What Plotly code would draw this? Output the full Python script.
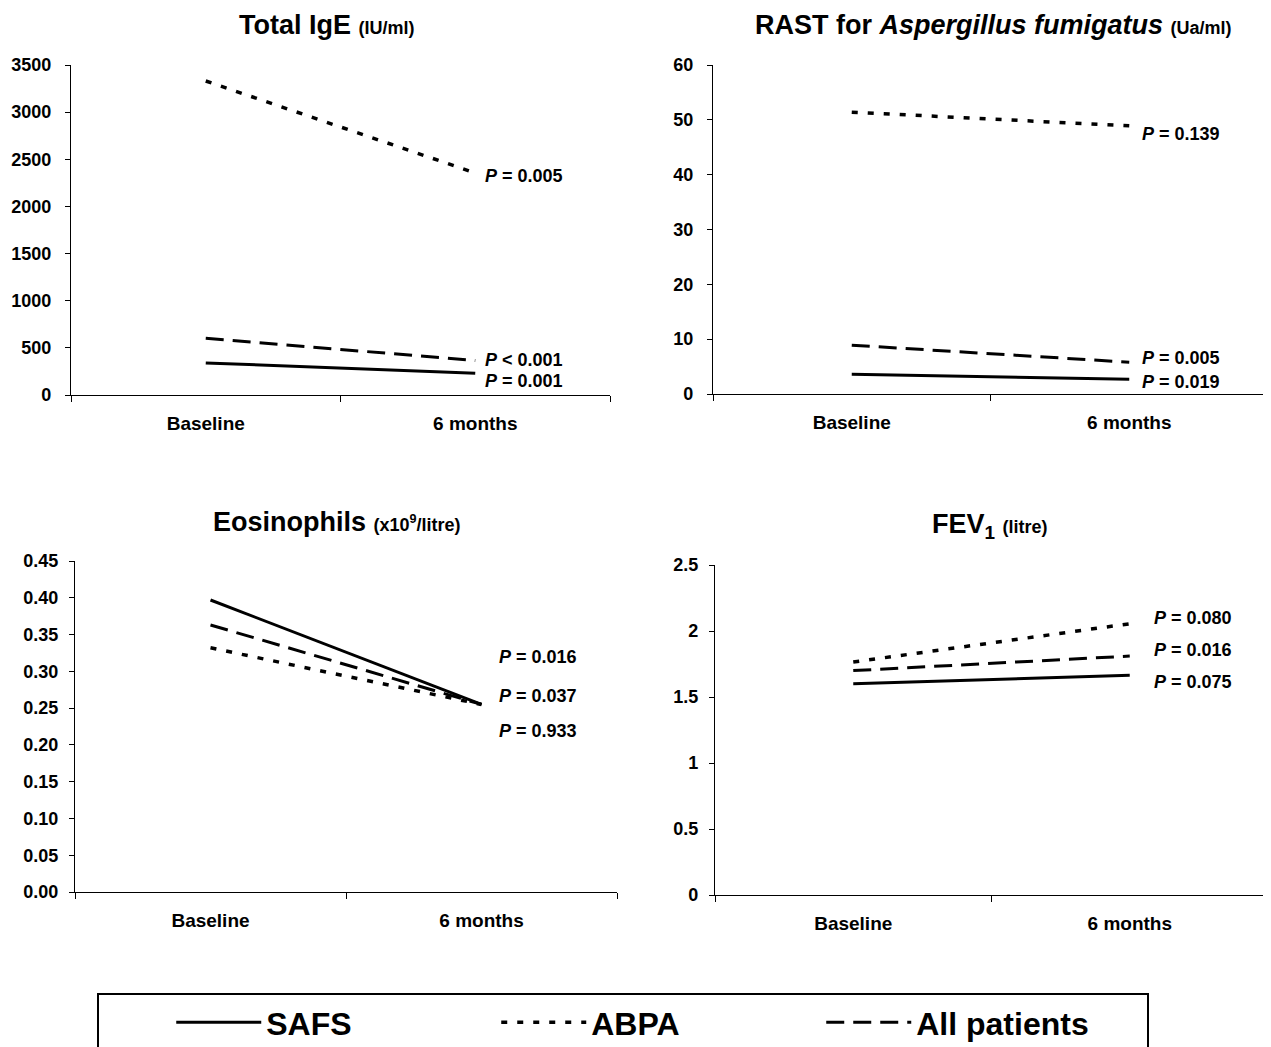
import plotly.graph_objects as go

W, H = 1271, 1047
OX, OY = 8, 8  # page body margin offset

categories = ["Baseline", "6 months"]
series_names = ["SAFS", "ABPA", "All patients"]

ige_safs = [340, 230]
ige_abpa = [3330, 2355]
ige_all = [602, 365]

rast_safs = [3.6, 2.7]
rast_abpa = [51.4, 48.9]
rast_all = [8.9, 5.8]

eos_safs = [0.397, 0.255]
eos_abpa = [0.332, 0.255]
eos_all = [0.363, 0.255]

fev_safs = [1.60, 1.665]
fev_abpa = [1.765, 2.055]
fev_all = [1.70, 1.81]

ige_p = ["= 0.005", "< 0.001", "= 0.001"]
rast_p = ["= 0.139", "= 0.005", "= 0.019"]
eos_p = ["= 0.016", "= 0.037", "= 0.933"]
fev_p = ["= 0.080", "= 0.016", "= 0.075"]

# label anchor heights (data units) for the P-value texts
ige_p_y = [2324, 372, 152]
rast_p_y = [47.5, 6.5, 2.24]
eos_p_y = [0.320, 0.267, 0.2195]
fev_p_y = [2.10, 1.855, 1.61]

FONT = "Liberation Sans, Arial, sans-serif"


def fx(px):
    return (px - OX) / W


def fy(py):
    return 1 - (py - OY) / H


styles = {
    "SAFS": dict(color="black", width=3, dash="solid"),
    "ABPA": dict(color="black", width=3.5, dash="6px,10px"),
    "All patients": dict(color="black", width=3, dash="18px,9px"),
}

panels = [
    dict(ax="1", data={"SAFS": ige_safs, "ABPA": ige_abpa, "All patients": ige_all},
         xd=[71, 610], yd=[65, 395], yrange=[0, 3500], dtick=500, fmt="d",
         ptext=ige_p, py=ige_p_y, pshift=8, standoff=10),
    dict(ax="2", data={"SAFS": rast_safs, "ABPA": rast_abpa, "All patients": rast_all},
         xd=[713, 1268], yd=[65, 394], yrange=[0, 60], dtick=10, fmt="d",
         ptext=rast_p, py=rast_p_y, pshift=11, standoff=10),
    dict(ax="3", data={"SAFS": eos_safs, "ABPA": eos_abpa, "All patients": eos_all},
         xd=[75, 617], yd=[561, 892], yrange=[0, 0.45], dtick=0.05, fmt=".2f",
         ptext=eos_p, py=eos_p_y, pshift=15, standoff=7),
    dict(ax="4", data={"SAFS": fev_safs, "ABPA": fev_abpa, "All patients": fev_all},
         xd=[715, 1268], yd=[565, 895], yrange=[0, 2.5], dtick=0.5, fmt="",
         ptext=fev_p, py=fev_p_y, pshift=22, standoff=7),
]

fig = go.Figure()
layout = {}
annotations = []

for i, p in enumerate(panels):
    sfx = p["ax"] if p["ax"] != "1" else ""
    xa, ya = "x" + sfx, "y" + sfx
    for name in ["ABPA", "All patients", "SAFS"]:
        fig.add_trace(go.Scatter(
            x=categories, y=p["data"][name], mode="lines", name=name,
            line=styles[name], xaxis=xa, yaxis=ya,
            legendgroup=name, showlegend=False, hoverinfo="skip"))
    layout["xaxis" + sfx] = dict(
        domain=[fx(p["xd"][0]), fx(p["xd"][1])], anchor=ya, type="category",
        range=[-0.5, 1.5], tickson="boundaries", ticks="outside", ticklen=6,
        tickcolor="black", showline=True, linecolor="black", linewidth=1.2,
        showgrid=False, zeroline=False, ticklabelstandoff=11,
        tickfont=dict(family=FONT, size=19, color="black", weight="bold"),
        fixedrange=True)
    layout["yaxis" + sfx] = dict(
        domain=[fy(p["yd"][1]), fy(p["yd"][0])], anchor=xa,
        range=p["yrange"], dtick=p["dtick"], tick0=0, tickformat=p["fmt"],
        ticks="outside", ticklen=5, tickcolor="black", showline=True,
        linecolor="black", linewidth=1.2, showgrid=False, zeroline=False,
        ticklabelstandoff=p["standoff"],
        tickfont=dict(family=FONT, size=18, color="black", weight="bold"),
        fixedrange=True)
    for t, yv in zip(p["ptext"], p["py"]):
        annotations.append(dict(
            x=1, y=yv, xref=xa, yref=ya, xanchor="left", yanchor="middle",
            xshift=p["pshift"], showarrow=False,
            text="<b><i>P</i> %s</b>" % t,
            font=dict(family=FONT, size=18, color="black")))

# legend entries
for name in series_names:
    fig.add_trace(go.Scatter(
        x=categories, y=[None, None], mode="lines", name=name, line=styles[name],
        legendgroup=name, showlegend=True, xaxis="x", yaxis="y",
        hoverinfo="skip"))

SUB = "<span style='font-size:18px'><b>%s</b></span>"
titles = [
    (327, 25, "<b>Total IgE</b> " + SUB % "(IU/ml)"),
    (993, 25, "<b>RAST for <i>Aspergillus fumigatus</i></b> " + SUB % "(Ua/ml)"),
    (337, 522, "<b>Eosinophils</b> " + SUB % "(x10<sup>9</sup>/litre)"),
    (990, 526, "<b>FEV<sub>1</sub></b> " + SUB % "(litre)"),
]
for x, y, t in titles:
    annotations.append(dict(
        x=fx(x), y=fy(y), xref="paper", yref="paper", xanchor="center",
        yanchor="middle", showarrow=False, text=t,
        font=dict(family=FONT, size=27, color="black")))

fig.update_layout(
    width=W, height=H,
    margin=dict(l=0, r=0, t=0, b=0, autoexpand=False),
    paper_bgcolor="white", plot_bgcolor="white",
    annotations=annotations,
    showlegend=True,
    legend=dict(
        orientation="h", x=fx(97), y=fy(993), xanchor="left", yanchor="top",
        bordercolor="black", borderwidth=2, bgcolor="white",
        title=dict(text="&nbsp;" * 8, side="left",
                   font=dict(family=FONT, size=28)),
        font=dict(family=FONT, size=32, color="black", weight="bold"),
        entrywidth=225, itemwidth=85, traceorder="normal",
        itemclick=False, itemdoubleclick=False),
    **layout,
)

fig.write_html("out.html")
